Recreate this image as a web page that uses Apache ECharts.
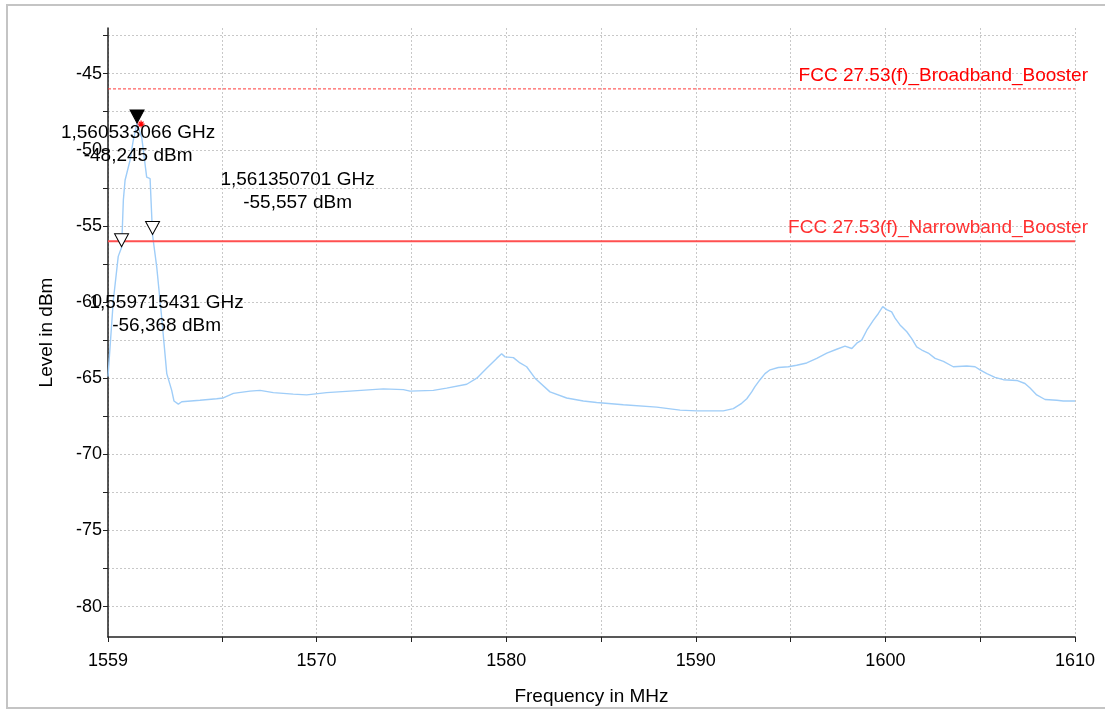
<!DOCTYPE html>
<html>
<head>
<meta charset="utf-8">
<title>Level in dBm</title>
<script src="https://cdn.jsdelivr.net/npm/echarts@6/dist/echarts.min.js"></script>
<style>
* { margin: 0; padding: 0; }
#main { position: absolute; width: 1105px; height: 711px; background: #fff; }
</style>
</head>
<body>
<div id="main"></div>
<script>
// trace (MHz, dBm)
var freqs = [1559.00, 1559.28, 1559.54, 1559.72, 1559.81, 1559.90, 1560.16, 1560.33, 1560.53, 1560.78,
  1561.04, 1561.22, 1561.35, 1561.57, 1561.83, 1562.10, 1562.36, 1562.48, 1562.71, 1562.89,
  1563.85, 1564.73, 1565.08, 1565.61, 1566.49, 1567.02, 1567.72, 1568.77, 1569.48, 1570.53,
  1571.76, 1573.52, 1574.58, 1574.93, 1576.16, 1576.86, 1577.92, 1578.45, 1578.97, 1579.50,
  1579.76, 1579.94, 1580.38, 1580.73, 1581.08, 1581.52, 1582.31, 1583.19, 1584.07, 1584.77,
  1586.18, 1587.94, 1589.17, 1590.05, 1591.45, 1591.98, 1592.42, 1592.69, 1592.95, 1593.12,
  1593.39, 1593.65, 1593.92, 1594.35, 1594.88, 1595.32, 1595.85, 1596.38, 1596.91, 1597.43,
  1597.87, 1598.23, 1598.49, 1598.75, 1599.02, 1599.36, 1599.63, 1599.86, 1600.07, 1600.33,
  1600.51, 1600.77, 1601.13, 1601.39, 1601.65, 1601.92, 1602.26, 1602.62, 1603.06, 1603.58,
  1604.29, 1604.73, 1604.99, 1605.35, 1605.78, 1606.22, 1606.93, 1607.36, 1607.63, 1607.98,
  1608.42, 1609.04, 1609.38, 1610.00];
var levels = [-64.9, -59.9, -57.0, -56.4, -53.3, -52.0, -50.7, -49.4, -48.25, -49.2,
  -51.8, -51.9, -55.6, -57.7, -61.0, -64.7, -65.8, -66.5, -66.7, -66.55,
  -66.45, -66.35, -66.3, -66.0, -65.85, -65.8, -65.95, -66.05, -66.1, -65.95,
  -65.85, -65.7, -65.75, -65.85, -65.8, -65.65, -65.4, -65.0, -64.35, -63.7,
  -63.4, -63.6, -63.65, -64.0, -64.25, -65.0, -65.9, -66.3, -66.5, -66.6,
  -66.75, -66.9, -67.1, -67.15, -67.15, -67.0, -66.65, -66.35, -65.9, -65.55,
  -65.1, -64.7, -64.45, -64.3, -64.25, -64.15, -64.0, -63.7, -63.35, -63.1,
  -62.9, -63.05, -62.7, -62.5, -61.85, -61.2, -60.75, -60.3, -60.5, -60.65,
  -61.05, -61.5, -61.95, -62.4, -62.95, -63.15, -63.35, -63.7, -63.9, -64.25,
  -64.2, -64.25, -64.45, -64.7, -64.95, -65.1, -65.15, -65.35, -65.65, -66.1,
  -66.4, -66.45, -66.5, -66.5];

var xTicks = [1559, 1565, 1570, 1575, 1580, 1585, 1590, 1595, 1600, 1605, 1610];
var xLabels = [1559, 1570, 1580, 1590, 1600, 1610];
var yTicks = [-80, -77.5, -75, -72.5, -70, -67.5, -65, -62.5, -60, -57.5, -55, -52.5, -50, -47.5, -45, -42.5];
var yLabels = [-80, -75, -70, -65, -60, -55, -50, -45];

var limitNames = ['FCC 27.53(f)_Broadband_Booster', 'FCC 27.53(f)_Narrowband_Booster'];
var limitLevels = [-46, -56];

var markerFreqs = [1560.533066, 1561.350701, 1559.715431];
var markerLevels = [-48.245, -55.557, -56.368];

var FONT = "'Liberation Sans', Arial, sans-serif";
var HIDDEN = 'rgba(0,0,0,0)';
var chart = echarts.init(document.getElementById('main'));

var trace = [];
for (var i = 0; i < freqs.length; i++) trace.push([freqs[i], levels[i]]);

function fmtMarker(f, l) {
  return (f / 1000).toFixed(9).replace('.', ',') + ' GHz\n' + l.toFixed(3).replace('.', ',') + ' dBm';
}

var downTri = 'path://M0,0 L14,0 L7,13 Z';
var markerPts = [], markerTexts = [];
var labelOffsets = [[1, 21], [145, -43], [45, 68]];
for (var k = 0; k < markerFreqs.length; k++) {
  markerPts.push({
    value: [markerFreqs[k], markerLevels[k]],
    itemStyle: { color: k === 0 ? '#000' : '#fff', borderColor: '#000', borderWidth: 1, opacity: 1 }
  });
  markerTexts.push({
    value: [markerFreqs[k], markerLevels[k]],
    label: { offset: labelOffsets[k] }
  });
}

var limitLabelColors = ['#ff0000', '#ff3030'];
var limitLabelData = [];
for (var m = 0; m < limitLevels.length; m++) {
  limitLabelData.push({
    value: [freqs[freqs.length - 1], limitLevels[m]],
    label: { color: limitLabelColors[m] }
  });
}

function limitSeries(idx, style) {
  return {
    type: 'line',
    name: limitNames[idx],
    data: [[freqs[0], limitLevels[idx]], [freqs[freqs.length - 1], limitLevels[idx]]],
    symbol: 'none',
    lineStyle: style,
    silent: true,
    z: 4
  };
}

var option = {
  animation: false,
  backgroundColor: '#fff',
  textStyle: { fontFamily: FONT },
  grid: { left: 108, right: 30, top: 28, bottom: 74, outerBoundsMode: 'none' },
  graphic: [{
    type: 'rect', silent: true,
    shape: { x: 7, y: 5, width: 1110, height: 703 },
    style: { fill: 'none', stroke: '#c4c4c4', lineWidth: 2 }
  }],
  xAxis: {
    type: 'value', min: 1559, max: 1610,
    name: 'Frequency in MHz', nameLocation: 'middle', nameGap: 50,
    nameTextStyle: { fontSize: 19, color: '#000', fontFamily: FONT },
    axisLine: { show: true, lineStyle: { color: '#222', width: 1.5 } },
    axisTick: { show: true, length: 5, customValues: xTicks, lineStyle: { color: '#222' } },
    axisLabel: {
      customValues: xLabels, fontSize: 18, color: '#000', margin: 15, fontFamily: FONT,
      formatter: function (v) { return String(v); }
    },
    splitLine: { show: true, lineStyle: { color: '#c8c8c8', type: [2, 2], width: 1 } }
  },
  yAxis: {
    type: 'value', min: -82, max: -42,
    name: 'Level in dBm', nameLocation: 'middle', nameGap: 52, nameRotate: 90,
    nameTextStyle: { fontSize: 19, color: '#000', fontFamily: FONT },
    axisLine: { show: true, lineStyle: { color: '#222', width: 1.5 } },
    axisTick: { show: true, length: 5, customValues: yTicks, lineStyle: { color: '#222' } },
    axisLabel: {
      customValues: yLabels, fontSize: 18, color: '#000', margin: 6, fontFamily: FONT,
      formatter: function (v) { return String(v); }
    },
    splitLine: { show: true, lineStyle: { color: '#c8c8c8', type: [2, 2], width: 1 } }
  },
  series: [
    {
      type: 'line', name: 'trace', data: trace,
      showSymbol: false, symbol: 'none',
      lineStyle: { color: '#9fcdf8', width: 1.4 },
      z: 3
    },
    limitSeries(0, { color: '#ff3a3a', width: 1, type: [3, 2] }),
    limitSeries(1, { color: '#ff5050', width: 2 }),
    {
      type: 'scatter', name: 'limitLabels', silent: true, z: 5,
      data: limitLabelData,
      symbolSize: 1, itemStyle: { color: HIDDEN, opacity: 1 },
      label: {
        show: true, position: 'top', distance: 3, align: 'right', offset: [13, 0],
        fontSize: 19, fontFamily: FONT,
        formatter: function (p) { return limitNames[p.dataIndex]; }
      }
    },
    {
      type: 'scatter', name: 'markers', silent: true, z: 6,
      data: markerPts,
      symbol: downTri, symbolSize: [14, 13], symbolOffset: [0, -6.5]
    },
    {
      type: 'scatter', name: 'peak', silent: true, z: 7,
      data: [[markerFreqs[0], markerLevels[0]]],
      symbol: 'path://M5,0 L5,10 M0,5 L10,5 M1.5,1.5 L8.5,8.5 M8.5,1.5 L1.5,8.5',
      symbolSize: 7, symbolOffset: [4, 1],
      itemStyle: { color: 'none', borderColor: '#ff0000', borderWidth: 1.2, opacity: 1 }
    },
    {
      type: 'scatter', name: 'markerLabels', silent: true, z: 8,
      data: markerTexts,
      symbolSize: 1, itemStyle: { color: HIDDEN, opacity: 1 },
      label: {
        show: true, position: 'inside', align: 'center', verticalAlign: 'middle',
        fontSize: 19, lineHeight: 23, color: '#000', textBorderWidth: 0, fontFamily: FONT,
        formatter: function (p) { return fmtMarker(p.value[0], p.value[1]); }
      }
    }
  ]
};

chart.setOption(option);
</script>
</body>
</html>
